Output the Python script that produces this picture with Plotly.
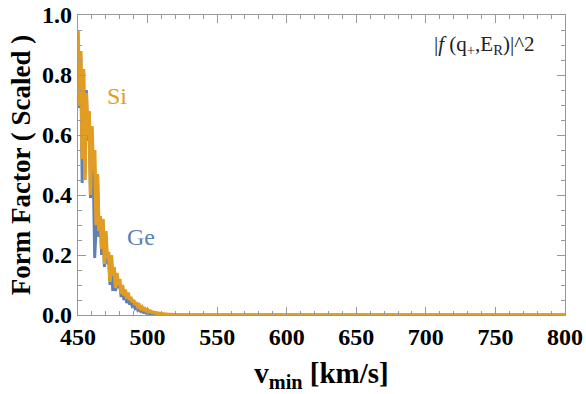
import plotly.graph_objects as go

# v_min grid [km/s] and scaled form factors
v_min = list(range(450, 531)) + [560, 650, 800]

si_ff = [0.95, 0.70, 0.88, 0.52, 0.82, 0.45, 0.74, 0.60, 0.68, 0.40,
         0.63, 0.48, 0.55, 0.30, 0.47, 0.28, 0.33, 0.22, 0.32, 0.17,
         0.28, 0.19, 0.21, 0.11, 0.20, 0.13, 0.16, 0.09, 0.14, 0.10,
         0.12, 0.07, 0.10, 0.065, 0.085, 0.055, 0.075, 0.05, 0.06, 0.042,
         0.05, 0.034, 0.042, 0.028, 0.033, 0.022, 0.027, 0.018, 0.021, 0.014,
         0.017, 0.011, 0.013, 0.009, 0.010, 0.007, 0.008, 0.005, 0.006, 0.004,
         0.0045, 0.003, 0.0035, 0.0022, 0.0026, 0.0016, 0.0018, 0.0012, 0.0012, 0.0008,
         0.0008, 0.0005, 0.0005, 0.0004, 0.0003, 0.0002, 0.0002, 0.0001, 0.0001, 0.0001,
         0.0001, 0.0, 0.0, 0.0]

ge_ff = [0.94, 0.69, 0.86, 0.44, 0.81, 0.47, 0.75, 0.58, 0.67, 0.39,
         0.62, 0.46, 0.19, 0.29, 0.46, 0.26, 0.32, 0.20, 0.30, 0.16,
         0.27, 0.17, 0.19, 0.10, 0.18, 0.08, 0.15, 0.08, 0.13, 0.09,
         0.10, 0.06, 0.085, 0.05, 0.07, 0.04, 0.055, 0.035, 0.045, 0.03,
         0.035, 0.022, 0.027, 0.016, 0.02, 0.012, 0.015, 0.009, 0.011, 0.006,
         0.008, 0.005, 0.005, 0.003, 0.0035, 0.002, 0.0025, 0.0013, 0.0014, 0.0008,
         0.0009, 0.0005, 0.0005, 0.0003, 0.0003, 0.0002, 0.0002, 0.0001, 0.0001, 0.0001,
         0.0, 0.0, 0.0, 0.0, 0.0, 0.0, 0.0, 0.0, 0.0, 0.0,
         0.0, 0.0, 0.0, 0.0]

blue = '#5E81B5'
orange = '#E19C24'
serif = 'Liberation Serif'

fig = go.Figure()
fig.add_trace(go.Scatter(x=v_min, y=ge_ff, mode='lines',
                         line=dict(color=blue, width=3)))
fig.add_trace(go.Scatter(x=v_min, y=si_ff, mode='lines',
                         line=dict(color=orange, width=3.5)))

# curve labels
fig.add_annotation(x=478, y=0.73, text='Si', showarrow=False,
                   font=dict(family=serif, size=24, color=orange))
fig.add_annotation(x=495, y=0.26, text='Ge', showarrow=False,
                   font=dict(family=serif, size=24, color=blue))
fig.add_annotation(x=742, y=0.9, text='|<i>f</i> (q<sub>+</sub>,E<sub>R</sub>)|^2',
                   showarrow=False, font=dict(family=serif, size=21, color='#222'))

axis_style = dict(showline=True, linecolor='#999', linewidth=1.2, mirror='ticks',
                  ticks='inside', ticklen=8, tickcolor='#999', tickwidth=1,
                  showgrid=False, zeroline=False, automargin=False,
                  tickfont=dict(family=serif, size=24, color='black'))

fig.update_xaxes(range=[450, 800], dtick=50, tick0=450,
                 minor=dict(dtick=10, ticks='inside', ticklen=4, tickcolor='#999'),
                 title=dict(text='<b>v<sub>min</sub> [km/s]</b>', standoff=13,
                            font=dict(family=serif, size=29, color='black')),
                 **axis_style)
fig.update_yaxes(range=[0, 1.0], dtick=0.2, tickformat='.1f',
                 minor=dict(dtick=0.05, ticks='inside', ticklen=4, tickcolor='#999'),
                 title=dict(text='<b>Form Factor ( Scaled )</b>', standoff=3,
                            font=dict(family=serif, size=27, color='black')),
                 **axis_style)

fig.update_layout(width=586, height=394, showlegend=False,
                  plot_bgcolor='white', paper_bgcolor='white',
                  margin=dict(l=78, r=21, t=15, b=79),
                  font=dict(family=serif, size=24, color='black'))
fig.update_xaxes(tickprefix='<b>', ticksuffix='</b>')
fig.update_yaxes(tickprefix='<b>', ticksuffix='</b>')

# drop the default page margin so the figure sits at the window corner
fig.write_html("out.html", config={'displayModeBar': False},
               post_script="document.body.style.margin='0';")
